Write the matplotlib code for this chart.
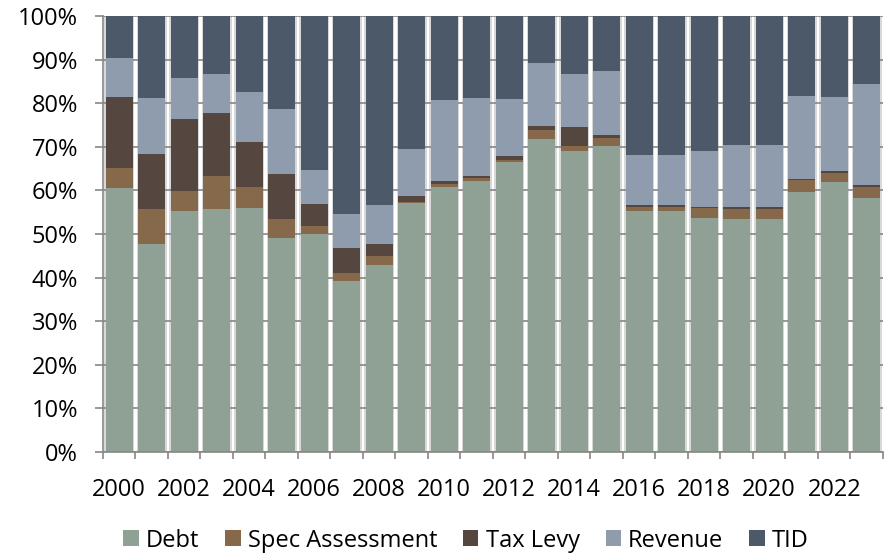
import numpy as np
import matplotlib
matplotlib.use('Agg')
import matplotlib.pyplot as plt
from matplotlib.patches import Patch

# DATA (share of total, %)
#===============================================================================
years = list(range(2000, 2024))
debt = [60.6, 47.8, 55.3, 55.8, 56.0, 49.2, 50.0, 39.2, 42.8, 57.1, 60.8, 62.2,
        66.5, 71.7, 69.0, 70.1, 55.3, 55.3, 53.8, 53.5, 53.5, 59.6, 61.9, 58.3]
spec_assessment = [4.5, 8.0, 4.6, 7.5, 4.7, 4.2, 1.8, 1.9, 2.1, 0.2, 0.8, 0.6,
                   0.6, 2.2, 1.3, 1.9, 0.8, 0.9, 2.1, 2.2, 2.2, 2.7, 2.2, 2.4]
tax_levy = [16.3, 12.6, 16.5, 14.4, 10.4, 10.4, 5.1, 5.7, 2.9, 1.5, 0.6, 0.6,
            0.8, 0.9, 4.2, 0.7, 0.6, 0.5, 0.4, 0.4, 0.4, 0.3, 0.3, 0.5]
revenue = [9.1, 12.9, 9.3, 9.0, 11.5, 14.9, 7.8, 7.9, 8.9, 10.7, 18.6, 17.9,
           13.1, 14.4, 12.3, 14.7, 11.4, 11.4, 12.7, 14.3, 14.3, 19.1, 17.1, 23.3]
tid = [9.5, 18.7, 14.3, 13.3, 17.4, 21.3, 35.3, 45.3, 43.3, 30.5, 19.2, 18.7,
       19.0, 10.8, 13.2, 12.6, 31.9, 31.9, 31.0, 29.6, 29.6, 18.3, 18.5, 15.5]
series_names = ['Debt', 'Spec Assessment', 'Tax Levy', 'Revenue', 'TID']
#===============================================================================

colors = ['#8fa095', '#86694a', '#55463f', '#8e9cad', '#4b5969']
axis_grey = '#868686'
fs = 17

plt.rcParams['font.family'] = ['Open Sans', 'DejaVu Sans']

fig = plt.figure(figsize=(8.91, 5.56), dpi=100)
ax = fig.add_axes([0.1156, 0.187, 0.8754, 0.784])

x = np.arange(len(years))
data = [debt, spec_assessment, tax_levy, revenue, tid]

# soft shadow behind each bar (Excel style)
ax.bar(x, [100] * len(x), width=0.93, color='#d8d8d8', zorder=0.2, linewidth=0)

bottom = np.zeros(len(x))
for vals, c in zip(data, colors):
    vals = np.array(vals)
    ax.bar(x, vals, bottom=bottom, width=0.83, color=c, zorder=2, linewidth=0)
    bottom += vals

ax.set_xlim(-0.5, len(x) - 0.5)
ax.set_ylim(0, 100)
ax.set_yticks(np.arange(0, 101, 10))
ax.set_yticklabels(['{}%'.format(v) for v in range(0, 101, 10)])
ax.yaxis.grid(True, color=axis_grey, linewidth=1.2)
ax.set_axisbelow(True)

# category boundary ticks, labels every other year
ax.set_xticks(np.arange(-0.5, len(x), 1.0))
ax.set_xticklabels([])
ax.set_xticks(x[::2], minor=True)
ax.set_xticklabels([str(y) for y in years[::2]], minor=True)
ax.tick_params(axis='x', which='minor', length=0, pad=19, labelsize=fs)
ax.tick_params(axis='x', which='major', length=5, width=1.2, color=axis_grey)
ax.tick_params(axis='y', length=6, width=1.2, color=axis_grey, pad=12, labelsize=fs)

for side in ['top', 'right']:
    ax.spines[side].set_visible(False)
for side in ['left', 'bottom']:
    ax.spines[side].set_color(axis_grey)
    ax.spines[side].set_linewidth(1.2)

handles = [Patch(facecolor=c, edgecolor='none') for c in colors]
fig.legend(handles, series_names, loc='lower center', ncol=5, frameon=False,
           fontsize=fs, handlelength=0.65, handleheight=0.65, handletextpad=0.3,
           columnspacing=1.1, bbox_to_anchor=(0.523, -0.032))

plt.savefig('out.png', dpi=100)
